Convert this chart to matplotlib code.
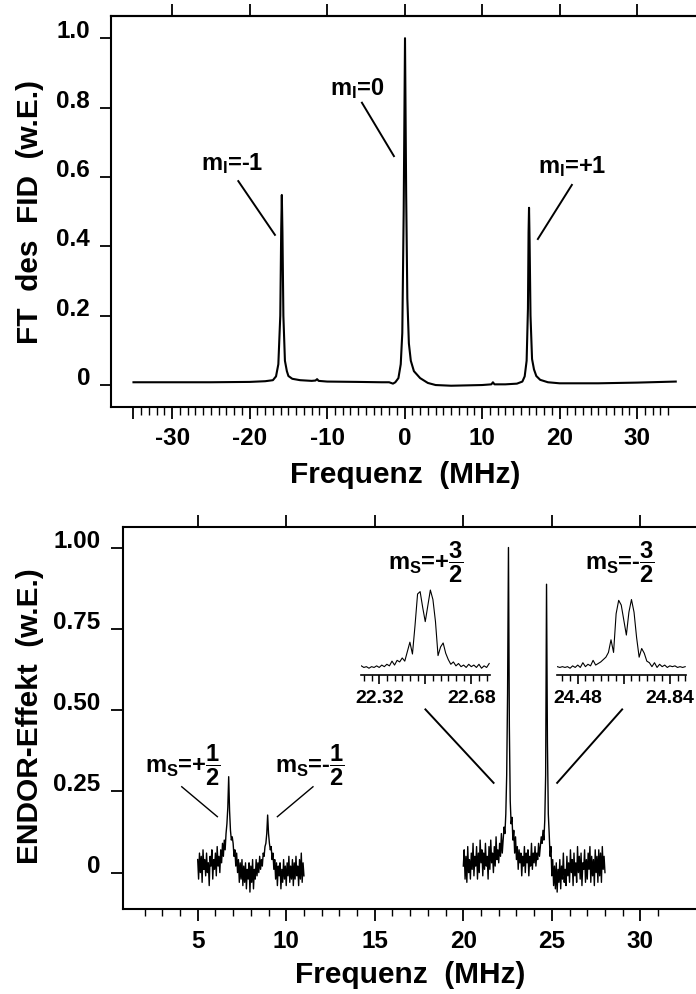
import numpy as np
import matplotlib
matplotlib.use('Agg')
import matplotlib.pyplot as plt
from matplotlib.ticker import FixedLocator

plt.rcParams['font.family'] = ['Liberation Sans', 'DejaVu Sans']
plt.rcParams['font.weight'] = 'bold'
plt.rcParams['mathtext.fontset'] = 'custom'
plt.rcParams['mathtext.rm'] = 'Liberation Sans:bold'
plt.rcParams['mathtext.it'] = 'Liberation Sans:bold'
plt.rcParams['mathtext.bf'] = 'Liberation Sans:bold'
plt.rcParams['mathtext.sf'] = 'Liberation Sans:bold'
plt.rcParams['axes.linewidth'] = 1.5

# --- FT des FID: frequency (MHz) / amplitude
fid_freq = [-35.0, -30.0, -25.0, -20.0, -18.0, -17.0, -16.6, -16.3, -16.05, -15.93,
            -15.85, -15.77, -15.65, -15.45, -15.2, -15.0, -14.5, -13.5, -12.0, -11.5,
            -11.3, -11.1, -10.0, -6.0, -3.0, -2.0, -1.5, -1.2, -0.8, -0.5,
            -0.3, -0.12, 0.05, 0.2, 0.35, 0.55, 0.8, 1.2, 2.0, 3.0,
            4.0, 6.0, 8.0, 10.0, 11.2, 11.4, 11.6, 13.0, 14.5, 15.2,
            15.5, 15.75, 15.92, 16.0, 16.06, 16.13, 16.25, 16.45, 16.7, 17.0,
            17.5, 18.5, 20.0, 25.0, 30.0, 35.0]
fid_amp = [0.008, 0.008, 0.008, 0.009, 0.011, 0.014, 0.025, 0.06, 0.20, 0.45,
           0.548, 0.44, 0.20, 0.07, 0.04, 0.026, 0.018, 0.014, 0.012, 0.013,
           0.017, 0.012, 0.010, 0.009, 0.008, 0.008, 0.004, 0.008, 0.02, 0.06,
           0.15, 0.50, 1.0, 0.55, 0.25, 0.12, 0.07, 0.04, 0.02, 0.006,
           0.0, -0.002, -0.001, 0.0, 0.002, 0.008, 0.002, 0.002, 0.004, 0.01,
           0.025, 0.07, 0.22, 0.44, 0.511, 0.42, 0.20, 0.075, 0.045, 0.026,
           0.015, 0.008, 0.005, 0.005, 0.007, 0.01]
fid_labels = [r'$m_I$=-1', r'$m_I$=0', r'$m_I$=+1']

# --- ENDOR spectrum, two sweeps sampled every 0.05 MHz
endor_step = 0.05
endor_lo_start = 5.0
endor_lo = [0.04, -0.02, 0.06, 0.00, 0.05, -0.03, 0.07, 0.01, 0.04, -0.01,
            0.06, 0.00, 0.03, -0.04, 0.05, 0.02, 0.07, -0.02, 0.04, 0.01,
            0.06, -0.01, 0.08, 0.02, 0.05, 0.00, 0.07, 0.03, 0.09, 0.05,
            0.10, 0.07, 0.12, 0.15, 0.20, 0.295, 0.19, 0.13, 0.10, 0.11,
            0.09, 0.05, 0.07, 0.02, 0.06, 0.00, 0.04, -0.03, 0.03, -0.02,
            0.04, -0.04, 0.02, -0.03, 0.03, -0.05, 0.01, -0.02, 0.03, -0.06,
            0.02, -0.03, 0.04, -0.05, 0.01, -0.02, 0.04, -0.01, 0.03, 0.00,
            0.05, 0.01, 0.04, 0.02, 0.06, 0.05, 0.08, 0.09, 0.12, 0.177,
            0.12, 0.09, 0.07, 0.08, 0.04, 0.06, 0.01, 0.04, -0.02, 0.03,
            -0.04, 0.02, -0.01, 0.03, -0.05, 0.01, -0.03, 0.04, -0.02, 0.02,
            -0.04, 0.03, -0.01, 0.05, -0.03, 0.02, -0.02, 0.04, -0.04, 0.03,
            -0.02, 0.05, -0.01, 0.02, -0.04, 0.04, -0.02, 0.06, -0.03, 0.03,
            -0.01]
endor_hi_start = 20.0
endor_hi = [0.02, 0.07, -0.02, 0.05, -0.03, 0.08, 0.00, 0.04, -0.02, 0.06,
            0.01, 0.09, -0.01, 0.05, 0.02, 0.08, -0.02, 0.06, 0.00, 0.10,
            0.03, 0.07, -0.01, 0.06, 0.01, 0.09, 0.02, 0.05, -0.02, 0.08,
            0.01, 0.10, 0.03, 0.06, 0.00, 0.08, 0.02, 0.11, 0.04, 0.07,
            0.03, 0.09, 0.05, 0.12, 0.06, 0.10, 0.14, 0.12, 0.18, 0.30,
            0.55, 1.00, 0.45, 0.22, 0.15, 0.17, 0.10, 0.13, 0.06, 0.11,
            0.04, 0.08, 0.01, 0.07, 0.03, 0.06, -0.01, 0.05, 0.02, 0.08,
            0.00, 0.06, 0.03, 0.07, -0.01, 0.05, 0.02, 0.09, 0.01, 0.06,
            0.03, 0.08, 0.02, 0.06, 0.04, 0.09, 0.05, 0.08, 0.11, 0.09,
            0.13, 0.10, 0.16, 0.30, 0.887, 0.40, 0.18, 0.12, 0.05, 0.08,
            -0.01, 0.04, -0.04, 0.02, -0.05, 0.03, -0.06, 0.01, -0.03, 0.04,
            -0.05, 0.02, -0.02, 0.06, -0.03, 0.01, -0.04, 0.05, -0.01, 0.03,
            -0.03, 0.07, 0.00, 0.04, -0.04, 0.06, -0.01, 0.03, -0.03, 0.08,
            0.00, 0.05, -0.02, 0.06, -0.04, 0.03, 0.01, 0.07, -0.03, 0.04,
            -0.02, 0.06, 0.01, 0.08, -0.03, 0.05, -0.01, 0.04, -0.04, 0.07,
            0.00, 0.05, -0.03, 0.07, -0.01, 0.06, -0.03, 0.08, 0.01, 0.05,
            0.00]

# zoomed lines (0.01 MHz steps)
zoom_step = 0.01
zoom_a_start = 22.25
zoom_a = [0.04, 0.02, 0.03, 0.01, 0.03, 0.02, 0.04, 0.02, 0.05, 0.03,
          0.06, 0.04, 0.10, 0.05, 0.11, 0.09, 0.14, 0.10, 0.22, 0.34,
          0.19, 0.55, 0.95, 0.98, 0.78, 0.60, 0.80, 1.00, 0.88, 0.60,
          0.17, 0.28, 0.33, 0.20, 0.12, 0.06, 0.09, 0.04, 0.07, 0.03,
          0.05, 0.02, 0.06, 0.03, 0.05, 0.02, 0.06, 0.01, 0.04, 0.02,
          0.07]
zoom_b_start = 24.40
zoom_b = [0.03, 0.02, 0.03, 0.02, 0.03, 0.01, 0.04, 0.02, 0.05, 0.02,
          0.08, 0.03, 0.06, 0.04, 0.11, 0.05, 0.07, 0.09, 0.12, 0.15,
          0.21, 0.37, 0.21, 0.70, 0.87, 0.81, 0.62, 0.43, 0.72, 0.88,
          0.72, 0.40, 0.15, 0.26, 0.20, 0.10, 0.08, 0.03, 0.08, 0.02,
          0.06, 0.03, 0.05, 0.02, 0.04, 0.03, 0.04, 0.02, 0.03, 0.02,
          0.03]
zoom_a_ticks = [22.32, 22.50, 22.68]
zoom_b_ticks = [24.48, 24.66, 24.84]
endor_labels = [r'$m_S$=+$\dfrac{1}{2}$', r'$m_S$=-$\dfrac{1}{2}$',
                r'$m_S$=+$\dfrac{3}{2}$', r'$m_S$=-$\dfrac{3}{2}$']


def grid(start, step, values):
    return start + step * np.arange(len(values))


fig = plt.figure(figsize=(6.96, 9.94), dpi=100)

# ---------------- top: FT des FID ----------------
ax1 = fig.add_axes([0.1595, 0.5908, 0.8448, 0.3931])
ax1.plot(fid_freq, fid_amp, color='black', lw=1.5)
ax1.set_xlim(-37.9, 38.0)
ax1.set_ylim(-0.0626, 1.064)
ax1.spines['right'].set_visible(False)

ax1.set_xticks([-35, -30, -20, -10, 0, 10, 20, 30])
ax1.set_xticklabels(['', '-30', '-20', '-10', '0', '10', '20', '30'])
ax1.xaxis.set_minor_locator(FixedLocator([v for v in range(-34, 35) if v % 10]))
ax1.set_yticks([0, 0.2, 0.4, 0.6, 0.8, 1.0])
ax1.set_yticklabels(['0', '0.2', '0.4', '0.6', '0.8', '1.0'])
ax1.tick_params(axis='x', which='major', direction='out', length=8.6, width=1.3,
                pad=6, labelsize=17.5, top=False)
ax1.tick_params(axis='x', which='minor', direction='out', length=5.6, width=1.0, top=False)
ax1.tick_params(axis='y', direction='out', length=8, width=1.3, pad=7,
                labelsize=17.5, right=False)
plt.setp(ax1.get_yticklabels(), va='baseline')

top1 = ax1.secondary_xaxis('top')
top1.set_xticks([-30, -20, -10, 0, 10, 20, 30])
top1.set_xticklabels([])
top1.tick_params(direction='out', length=8.6, width=1.3)
top1.spines['top'].set_linewidth(1.5)

for txt, (tx, ty) in zip(fid_labels, [(-22.28, 0.620), (-6.15, 0.837), (21.59, 0.611)]):
    ax1.text(tx, ty, txt, fontsize=17, ha='center', va='baseline')
for (x0, y0), (x1, y1) in [((-21.47, 0.588), (-16.74, 0.433)),
                           ((-5.51, 0.814), (-1.38, 0.660)),
                           ((21.59, 0.577), (17.2, 0.421))]:
    ax1.plot([x0, x1], [y0, y1], color='black', lw=1.4)

fig.text(0.0431, 0.7867, 'FT  des  FID  (w.E.)', rotation=90, fontsize=21.5,
         ha='center', va='center')
fig.text(0.582, 0.5138, 'Frequenz  (MHz)', fontsize=21.5, ha='center', va='baseline')

# ---------------- bottom: ENDOR ----------------
ax2 = fig.add_axes([0.1772, 0.0852, 0.8243, 0.3849])
ax2.plot(grid(endor_lo_start, endor_step, endor_lo), endor_lo, color='black', lw=1.0)
ax2.plot(grid(endor_hi_start, endor_step, endor_hi), endor_hi, color='black', lw=1.0)
ax2.set_xlim(0.8, 33.2)
ax2.set_ylim(-0.113, 1.064)
ax2.spines['right'].set_visible(False)

ax2.set_xticks([5, 10, 15, 20, 25, 30])
ax2.set_xticklabels(['5', '10', '15', '20', '25', '30'])
ax2.xaxis.set_minor_locator(FixedLocator([v for v in range(2, 32) if v % 5]))
ax2.set_yticks([0, 0.25, 0.5, 0.75, 1.0])
ax2.set_yticklabels(['0', '0.25', '0.50', '0.75', '1.00'])
ax2.tick_params(axis='x', which='major', direction='out', length=8.6, width=1.3,
                pad=6, labelsize=17.5, top=True)
ax2.tick_params(axis='x', which='minor', direction='out', length=5.0, width=1.0, top=False)
ax2.tick_params(axis='y', direction='out', length=8.3, width=1.3, pad=8,
                labelsize=17.5, right=False)
plt.setp(ax2.get_yticklabels(), va='baseline')

label_pos = [(4.14, 0.306), (11.35, 0.306), (17.89, 0.931), (28.82, 0.931)]
for txt, (tx, ty) in zip(endor_labels, label_pos):
    ax2.text(tx, ty, txt, fontsize=17, ha='center', va='baseline')
for (x0, y0), (x1, y1), w in [((4.10, 0.264), (6.11, 0.172), 1.0),
                              ((11.51, 0.264), (9.50, 0.172), 1.0),
                              ((17.86, 0.502), (21.71, 0.276), 1.4),
                              ((28.97, 0.502), (25.30, 0.276), 1.4)]:
    ax2.plot([x0, x1], [y0, y1], color='black', lw=w)

fig.text(0.0431, 0.2797, 'ENDOR-Effekt  (w.E.)', rotation=90, fontsize=21.5,
         ha='center', va='center')
fig.text(0.589, 0.0114, 'Frequenz  (MHz)', fontsize=21.5, ha='center', va='baseline')

# zoomed views of the two m_S = 3/2 lines
for left, start, vals, ticks in [(0.5191, zoom_a_start, zoom_a, zoom_a_ticks),
                                 (0.8007, zoom_b_start, zoom_b, zoom_b_ticks)]:
    ins = fig.add_axes([left, 0.3209, 0.1856, 0.0905])
    xs = grid(start, zoom_step, vals)
    ins.plot(xs, vals, color='black', lw=0.8)
    ins.set_xlim(xs[0], xs[-1] + 0.005)
    ins.set_ylim(-0.076, 1.063)
    ins.patch.set_alpha(0)
    for s in ['top', 'left', 'right']:
        ins.spines[s].set_visible(False)
    ins.spines['bottom'].set_linewidth(1.2)
    ins.set_yticks([])
    ins.set_xticks(ticks)
    ins.set_xticklabels([f'{ticks[0]:.2f}', '', f'{ticks[2]:.2f}'])
    ins.xaxis.set_minor_locator(FixedLocator(np.round(np.arange(ticks[0] - 0.06, ticks[2] + 0.07, 0.03), 2)))
    ins.tick_params(axis='x', which='major', direction='out', length=6.5, width=1.2,
                    pad=4, labelsize=14)
    ins.tick_params(axis='x', which='minor', direction='out', length=4.5, width=1.0)

fig.savefig('out.png', dpi=100)
